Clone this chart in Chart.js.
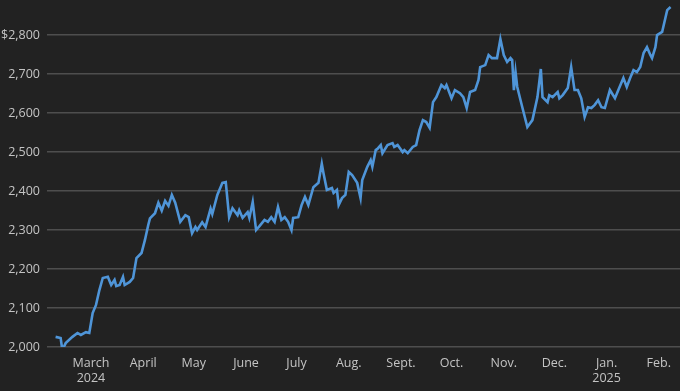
<!DOCTYPE html>
<html>
<head>
<meta charset="utf-8">
<script src="https://cdn.jsdelivr.net/npm/chart.js@4.4.1/dist/chart.umd.min.js"></script>
<style>
  html, body { margin: 0; padding: 0; background: #222222; }
  #wrap { width: 680px; height: 391px; }
</style>
</head>
<body>
<div id="wrap"><canvas id="gold" width="680" height="391"></canvas></div>
<script>
// Gold price, dollars per ounce
const dates = [
  '2024-02-09','2024-02-12','2024-02-13','2024-02-15','2024-02-19','2024-02-22','2024-02-24','2024-02-27','2024-02-29',
  '2024-03-02','2024-03-04','2024-03-06','2024-03-08','2024-03-11','2024-03-13','2024-03-15','2024-03-16','2024-03-18',
  '2024-03-20','2024-03-21','2024-03-24','2024-03-26','2024-03-28','2024-03-31',
  '2024-04-02','2024-04-04','2024-04-05','2024-04-08','2024-04-10','2024-04-12','2024-04-14','2024-04-16','2024-04-18',
  '2024-04-20','2024-04-23','2024-04-26','2024-04-28','2024-04-30',
  '2024-05-02','2024-05-03','2024-05-06','2024-05-08','2024-05-11','2024-05-12','2024-05-15','2024-05-18','2024-05-20',
  '2024-05-22','2024-05-24','2024-05-27','2024-05-28','2024-05-30',
  '2024-06-02','2024-06-03','2024-06-05','2024-06-07','2024-06-09','2024-06-12','2024-06-14','2024-06-16','2024-06-18',
  '2024-06-20','2024-06-22','2024-06-24','2024-06-26','2024-06-28','2024-06-29',
  '2024-07-02','2024-07-04','2024-07-06','2024-07-08','2024-07-11','2024-07-14','2024-07-16','2024-07-17','2024-07-19',
  '2024-07-22','2024-07-23','2024-07-25','2024-07-26','2024-07-28','2024-07-30',
  '2024-08-01','2024-08-03','2024-08-06','2024-08-08','2024-08-09','2024-08-12','2024-08-14','2024-08-15','2024-08-17',
  '2024-08-18','2024-08-20','2024-08-21','2024-08-24','2024-08-27','2024-08-28','2024-08-30',
  '2024-09-02','2024-09-03','2024-09-05','2024-09-08','2024-09-10','2024-09-12','2024-09-14','2024-09-16','2024-09-18',
  '2024-09-20','2024-09-22','2024-09-25','2024-09-27','2024-09-28',
  '2024-10-01','2024-10-03','2024-10-06','2024-10-08','2024-10-10','2024-10-12','2024-10-15','2024-10-17','2024-10-18',
  '2024-10-21','2024-10-23','2024-10-25','2024-10-28','2024-10-30',
  '2024-11-01','2024-11-03','2024-11-05','2024-11-06','2024-11-07','2024-11-08','2024-11-09','2024-11-12','2024-11-15',
  '2024-11-18','2024-11-21','2024-11-23','2024-11-24','2024-11-27','2024-11-28','2024-11-30',
  '2024-12-03','2024-12-04','2024-12-06','2024-12-09','2024-12-11','2024-12-13','2024-12-15','2024-12-17','2024-12-19',
  '2024-12-21','2024-12-23','2024-12-25','2024-12-27','2024-12-29','2024-12-31',
  '2025-01-03','2025-01-06','2025-01-08','2025-01-11','2025-01-13','2025-01-15','2025-01-17','2025-01-19','2025-01-21',
  '2025-01-23','2025-01-25','2025-01-27','2025-01-28','2025-01-30','2025-01-31',
  '2025-02-03','2025-02-06','2025-02-08'
];
const prices = [
  2026, 2023, 1992, 2010, 2026, 2036, 2031, 2038, 2036,
  2087, 2108, 2146, 2177, 2180, 2159, 2172, 2156, 2159,
  2180, 2159, 2167, 2177, 2228, 2241,
  2274, 2313, 2330, 2343, 2370, 2350, 2375, 2362, 2390,
  2370, 2321, 2338, 2333, 2292,
  2308, 2300, 2320, 2308, 2355, 2341, 2390, 2421, 2423,
  2333, 2356, 2338, 2351, 2331,
  2346, 2331, 2372, 2300, 2310, 2326, 2321, 2333, 2321,
  2359, 2326, 2333, 2321, 2300, 2331,
  2333, 2364, 2385, 2364, 2410, 2421, 2470, 2446, 2403,
  2408, 2395, 2403, 2364, 2382, 2390,
  2449, 2441, 2421, 2382, 2428, 2462, 2479, 2462, 2505,
  2508, 2518, 2497, 2518, 2523, 2513, 2518,
  2500, 2505, 2497, 2513, 2518, 2556, 2582, 2577, 2562,
  2628, 2641, 2672, 2664, 2672,
  2638, 2659, 2651, 2641, 2613, 2654, 2659, 2685, 2718,
  2723, 2749, 2741, 2741, 2790,
  2749, 2731, 2741, 2736, 2659, 2705, 2667, 2615, 2564,
  2582, 2641, 2713, 2641, 2628, 2646, 2641,
  2654, 2638, 2646, 2664, 2718, 2659, 2659, 2638, 2590,
  2615, 2613, 2621, 2633, 2615, 2613,
  2659, 2638, 2659, 2690, 2667, 2690, 2710, 2705, 2718,
  2754, 2769, 2749, 2741, 2769, 2800,
  2808, 2864, 2872
];
const yTicks = [2000, 2100, 2200, 2300, 2400, 2500, 2600, 2700, 2800];
const monthStarts = ['2024-03-01','2024-04-01','2024-05-01','2024-06-01','2024-07-01','2024-08-01',
  '2024-09-01','2024-10-01','2024-11-01','2024-12-01','2025-01-01','2025-02-01'];
const monthLabels = [['March','2024'],'April','May','June','July','Aug.','Sept.','Oct.','Nov.','Dec.',['Jan.','2025'],'Feb.'];

// days counted from March 1, 2024
const origin = Date.UTC(2024, 2, 1);
function dayNum(s) {
  const p = s.split('-').map(Number);
  return (Date.UTC(p[0], p[1] - 1, p[2]) - origin) / 86400000;
}

const points = dates.map((d, i) => ({ x: dayNum(d), y: prices[i] }));
const monthDays = monthStarts.map(dayNum);

const textColor = '#c4c4c4';
const font = { family: 'Open Sans', size: 12.5 };

new Chart(document.getElementById('gold'), {
  type: 'line',
  data: {
    datasets: [{
      data: points,
      borderColor: '#4f95d8',
      borderWidth: 2.6,
      pointRadius: 0,
      tension: 0,
      fill: false
    }]
  },
  options: {
    responsive: false,
    animation: false,
    layout: { padding: 0 },
    plugins: { legend: { display: false }, tooltip: { enabled: false } },
    scales: {
      x: {
        type: 'linear',
        min: -26.1,
        max: 349.6,
        grid: { display: false, drawTicks: false },
        border: { display: false },
        afterBuildTicks: scale => { scale.ticks = monthDays.map(v => ({ value: v })); },
        afterFit: scale => { scale.height = 44; },
        ticks: {
          autoSkip: false,
          maxRotation: 0,
          padding: 9,
          color: textColor,
          font: font,
          callback: (v) => monthLabels[monthDays.indexOf(v)]
        }
      },
      y: {
        min: 2000,
        max: 2890,
        grid: { color: '#4e4e4e', lineWidth: 1.5, drawTicks: false },
        border: { display: false },
        afterBuildTicks: scale => { scale.ticks = yTicks.map(v => ({ value: v })); },
        afterFit: scale => {
          scale.width = 47;
          scale.paddingTop = 0;
          scale.paddingBottom = 0;
        },
        ticks: {
          padding: 7,
          color: textColor,
          font: font,
          callback: v => (v === 2800 ? '$' : '') + v.toLocaleString('en-US')
        }
      }
    }
  }
});
</script>
</body>
</html>
